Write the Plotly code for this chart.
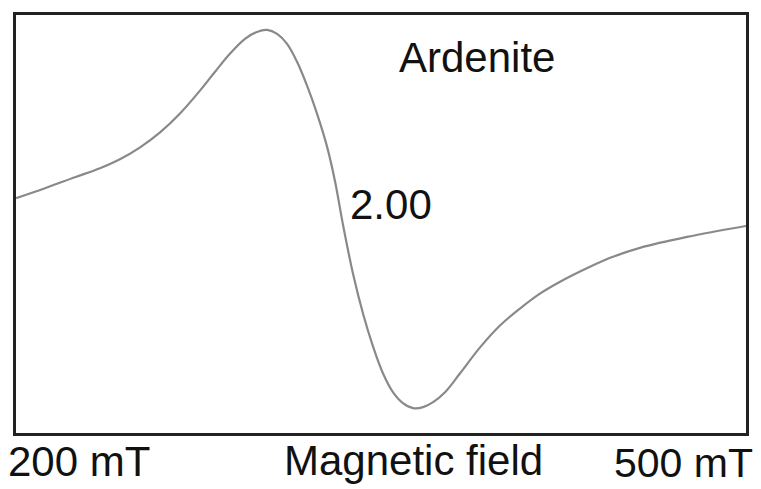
import plotly.graph_objects as go

# Magnetic field (mT) and EPR derivative intensity (arbitrary units)
field_mT = [200, 211.9, 224.2, 234.5, 242.7, 251.0, 259.2, 267.4, 275.6, 281.8,
            287.9, 294.1, 299.0, 303.2, 307.3, 311.4, 315.5, 319.6, 323.7, 327.8,
            331.1, 334.4, 338.5, 342.6, 346.7, 350.8, 354.9, 359.0, 363.2, 367.3,
            371.4, 376.3, 382.5, 390.7, 398.9, 407.1, 415.3, 423.6, 435.9, 445.3,
            456.4, 475.8, 500]
intensity = [23, 33, 44, 53, 62, 74, 89, 108, 131, 150,
             168, 183, 190, 192, 188, 178, 160, 136, 108, 75,
             40, -4, -53, -93, -126, -153, -172, -183, -188, -187,
             -182, -172, -153, -127, -105, -88, -73, -61, -46, -36,
             -27, -16, -5]

field_range = [200, 500]
intensity_range = [-213, 207]

sample_label = "Ardenite"
g_label = "2.00"
x_title = "Magnetic field"
x_min_label = "200 mT"
x_max_label = "500 mT"

FONT = "Liberation Sans, Arial, Helvetica, sans-serif"

fig = go.Figure()
fig.add_trace(go.Scatter(
    x=field_mT, y=intensity, mode="lines",
    line=dict(color="#8c8888", width=2.2, shape="spline", smoothing=1.0),
    hoverinfo="skip", showlegend=False,
))

W, H = 761, 489
L, R, T, B = 16, 15, 13, 56
pw, ph = W - L - R, H - T - B

def px(x):
    return (x - L) / pw

def py(y):
    return (H - B - y) / ph

def ann(text, x, y, xanchor="center", size=42):
    fig.add_annotation(
        text=text, x=px(x), y=py(y), xref="paper", yref="paper",
        xanchor=xanchor, yanchor="middle", showarrow=False, borderpad=0,
        font=dict(family=FONT, size=size, color="#111111"),
    )

ann(sample_label, 477, 56)
ann(g_label, 391, 203)
ann(x_title, 413, 461)
ann(x_min_label, 7, 462, xanchor="left")
ann(x_max_label, 754, 463, xanchor="right", size=41)

axis_common = dict(showgrid=False, zeroline=False, showticklabels=False, ticks="",
                   showline=True, mirror=True, linecolor="#222222", linewidth=2.5)
fig.update_xaxes(range=field_range, **axis_common)
fig.update_yaxes(range=intensity_range, **axis_common)

fig.update_layout(
    width=W, height=H,
    margin=dict(l=L, r=R, t=T, b=B),
    paper_bgcolor="white", plot_bgcolor="white",
)

fig.write_html("out.html")
